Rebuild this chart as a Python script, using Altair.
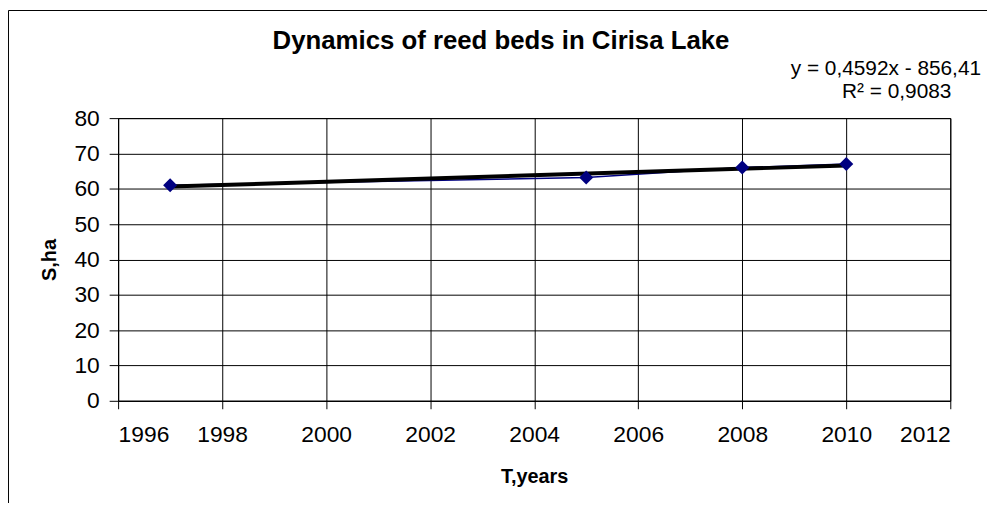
import altair as alt
import pandas as pd

# Data
years = [1997, 2005, 2008, 2010]
area_ha = [61.0, 63.2, 66.0, 67.0]

x_ticks = list(range(1996, 2013, 2))
y_ticks = list(range(0, 81, 10))

title_text = "Dynamics of reed beds in Cirisa Lake"
eq_text = "y = 0,4592x - 856,41"
r2_text = "R² = 0,9083"
x_title = "T,years"
y_title = "S,ha"

df = pd.DataFrame({"year": years, "area": area_ha})
FONT = "Liberation Sans"

x_enc = alt.X("year:Q",
              scale=alt.Scale(domain=[1996, 2012], nice=False, zero=False),
              axis=alt.Axis(values=x_ticks, format="d", title=x_title,
                            labelFontSize=23, titleFontSize=20, titleFontWeight="bold",
                            labelPadding=15, titlePadding=20, tickSize=8,
                            labelOverlap=False))
y_enc = alt.Y("area:Q",
              scale=alt.Scale(domain=[0, 80], nice=False),
              axis=alt.Axis(values=y_ticks, title=y_title,
                            labelFontSize=23, titleFontSize=20, titleFontWeight="bold",
                            labelPadding=10, titlePadding=15, tickSize=9,
                            labelOverlap=False))

base = alt.Chart(df)

series = base.mark_line(color="#000080", strokeWidth=1.5).encode(x=x_enc, y=y_enc)
points = base.mark_point(shape="diamond", filled=True, color="#000080", size=200, opacity=1).encode(x=x_enc, y=y_enc)
trend = base.transform_regression("year", "area", method="linear").mark_line(
    color="black", strokeWidth=4).encode(x=x_enc, y=y_enc)

title_mark = alt.Chart(pd.DataFrame({"t": [title_text]})).mark_text(
    font=FONT, fontSize=26, fontWeight="bold", color="black", align="center", baseline="middle"
).encode(text="t:N", x=alt.value(386), y=alt.value(-78))

eq_mark = alt.Chart(pd.DataFrame({"t": [eq_text]})).mark_text(
    font=FONT, fontSize=21, color="black", align="right", baseline="middle"
).encode(text="t:N", x=alt.value(870), y=alt.value(-49))

r2_mark = alt.Chart(pd.DataFrame({"t": [r2_text]})).mark_text(
    font=FONT, fontSize=21, color="black", align="center", baseline="middle"
).encode(text="t:N", x=alt.value(785), y=alt.value(-26))

frame_left = alt.Chart(pd.DataFrame({"k": [0]})).mark_rule(color="black", strokeWidth=1).encode(
    x=alt.value(-110.5), y=alt.value(-108.5), y2=alt.value(400))
frame_top = alt.Chart(pd.DataFrame({"k": [0]})).mark_rule(color="black", strokeWidth=1).encode(
    x=alt.value(-110.5), x2=alt.value(900), y=alt.value(-108.5))

chart = alt.layer(series, trend, points, title_mark, eq_mark, r2_mark, frame_left, frame_top).properties(
    width=839, height=285,
    autosize=alt.AutoSizeParams(type="none"),
    padding={"left": 111, "top": 109, "right": 37, "bottom": 101},
    background="white",
).configure_view(
    stroke="black", strokeWidth=1
).configure_axis(
    labelFont=FONT, titleFont=FONT, labelColor="black", titleColor="black",
    domainColor="black", tickColor="black", gridColor="black", gridOpacity=1,
    gridWidth=1, domainWidth=1, tickWidth=1, grid=True
)

chart.save("out.html", embed_options={"renderer": "svg", "actions": False})
